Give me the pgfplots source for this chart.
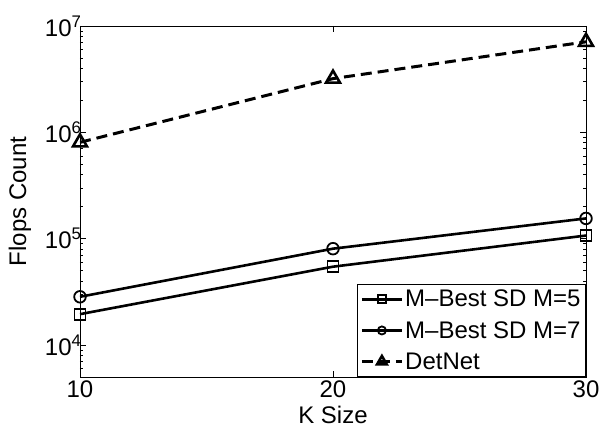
\documentclass[border=0pt]{standalone}
\usepackage{fontspec}
\setmainfont{Liberation Sans}
\usepackage{pgfplots}
\pgfplotsset{compat=1.18}
\begin{document}
\begin{tikzpicture}
\begin{axis}[
  scale only axis,
  width=506pt, height=351pt,
  ymode=log,
  xmin=10, xmax=30,
  ymin=5000, ymax=1e7,
  xtick={10,20,30},
  ytick={1e4,1e5,1e6,1e7},
  yticklabels={10\textsuperscript{4},10\textsuperscript{5},10\textsuperscript{6},10\textsuperscript{7}},
  minor ytick={6000,7000,8000,9000,
    20000,30000,40000,50000,60000,70000,80000,90000,
    200000,300000,400000,500000,600000,700000,800000,900000,
    2000000,3000000,4000000,5000000,6000000,7000000,8000000,9000000},
  tick align=inside,
  major tick length=6pt,
  minor tick length=3.5pt,
  axis line style={line width=0.8pt},
  every tick/.style={line width=0.7pt, black},
  tick label style={font=\fontsize{24}{28}\selectfont},
  yticklabel style={xshift=5pt},
  /pgf/number format/assume math mode=true,
  xlabel={K Size},
  ylabel={Flops Count},
  label style={font=\fontsize{24}{28}\selectfont},
  xlabel style={yshift=-2pt},
  ylabel style={at={([xshift=-60pt]rel axis cs:0,0.5)}, anchor=center},
  legend style={
    at={(1,0)}, anchor=south east,
    font=\fontsize{24}{28}\selectfont,
    draw=black, line width=0.8pt,
    inner xsep=3pt, inner ysep=4pt,
    row sep=9pt,
  },
  legend cell align=left,
  legend image code/.code={
    \draw[line width=2.6pt, #1, mark=none] (0pt,0pt) -- (20pt,0pt) -- (40pt,0pt);
    \draw[#1, only marks, every mark/.append style={scale=0.7}] plot coordinates {(20pt,0pt)};
  },
]
\coordinate (sw) at (rel axis cs:0,0);
\coordinate (ne) at (rel axis cs:1,1);
% M-Best sphere decoder, M = 5
\addplot[black, line width=2.6pt, mark=square, mark size=5.5pt,
  mark options={solid, fill=white, line width=1.8pt}]
  coordinates {(10,19500) (20,54500) (30,107000)};
\addlegendentry{M\textendash Best SD M=5}
% M-Best sphere decoder, M = 7
\addplot[black, line width=2.6pt, mark=o, mark size=5.8pt,
  mark options={solid, fill=white, line width=1.8pt}]
  coordinates {(10,28400) (20,80500) (30,155000)};
\addlegendentry{M\textendash Best SD M=7}
% DetNet
\addplot[black, line width=3pt, dash pattern=on 11pt off 6pt,
  mark=triangle, mark size=8pt,
  mark options={solid, fill=white, line width=2.6pt}]
  coordinates {(10,805000) (20,3200000) (30,7100000)};
\addlegendentry{DetNet}
\end{axis}
\pgfresetboundingbox
\path ([shift={(-80pt,-52pt)}]sw) rectangle ([shift={(16pt,26pt)}]ne);
\end{tikzpicture}
\end{document}
